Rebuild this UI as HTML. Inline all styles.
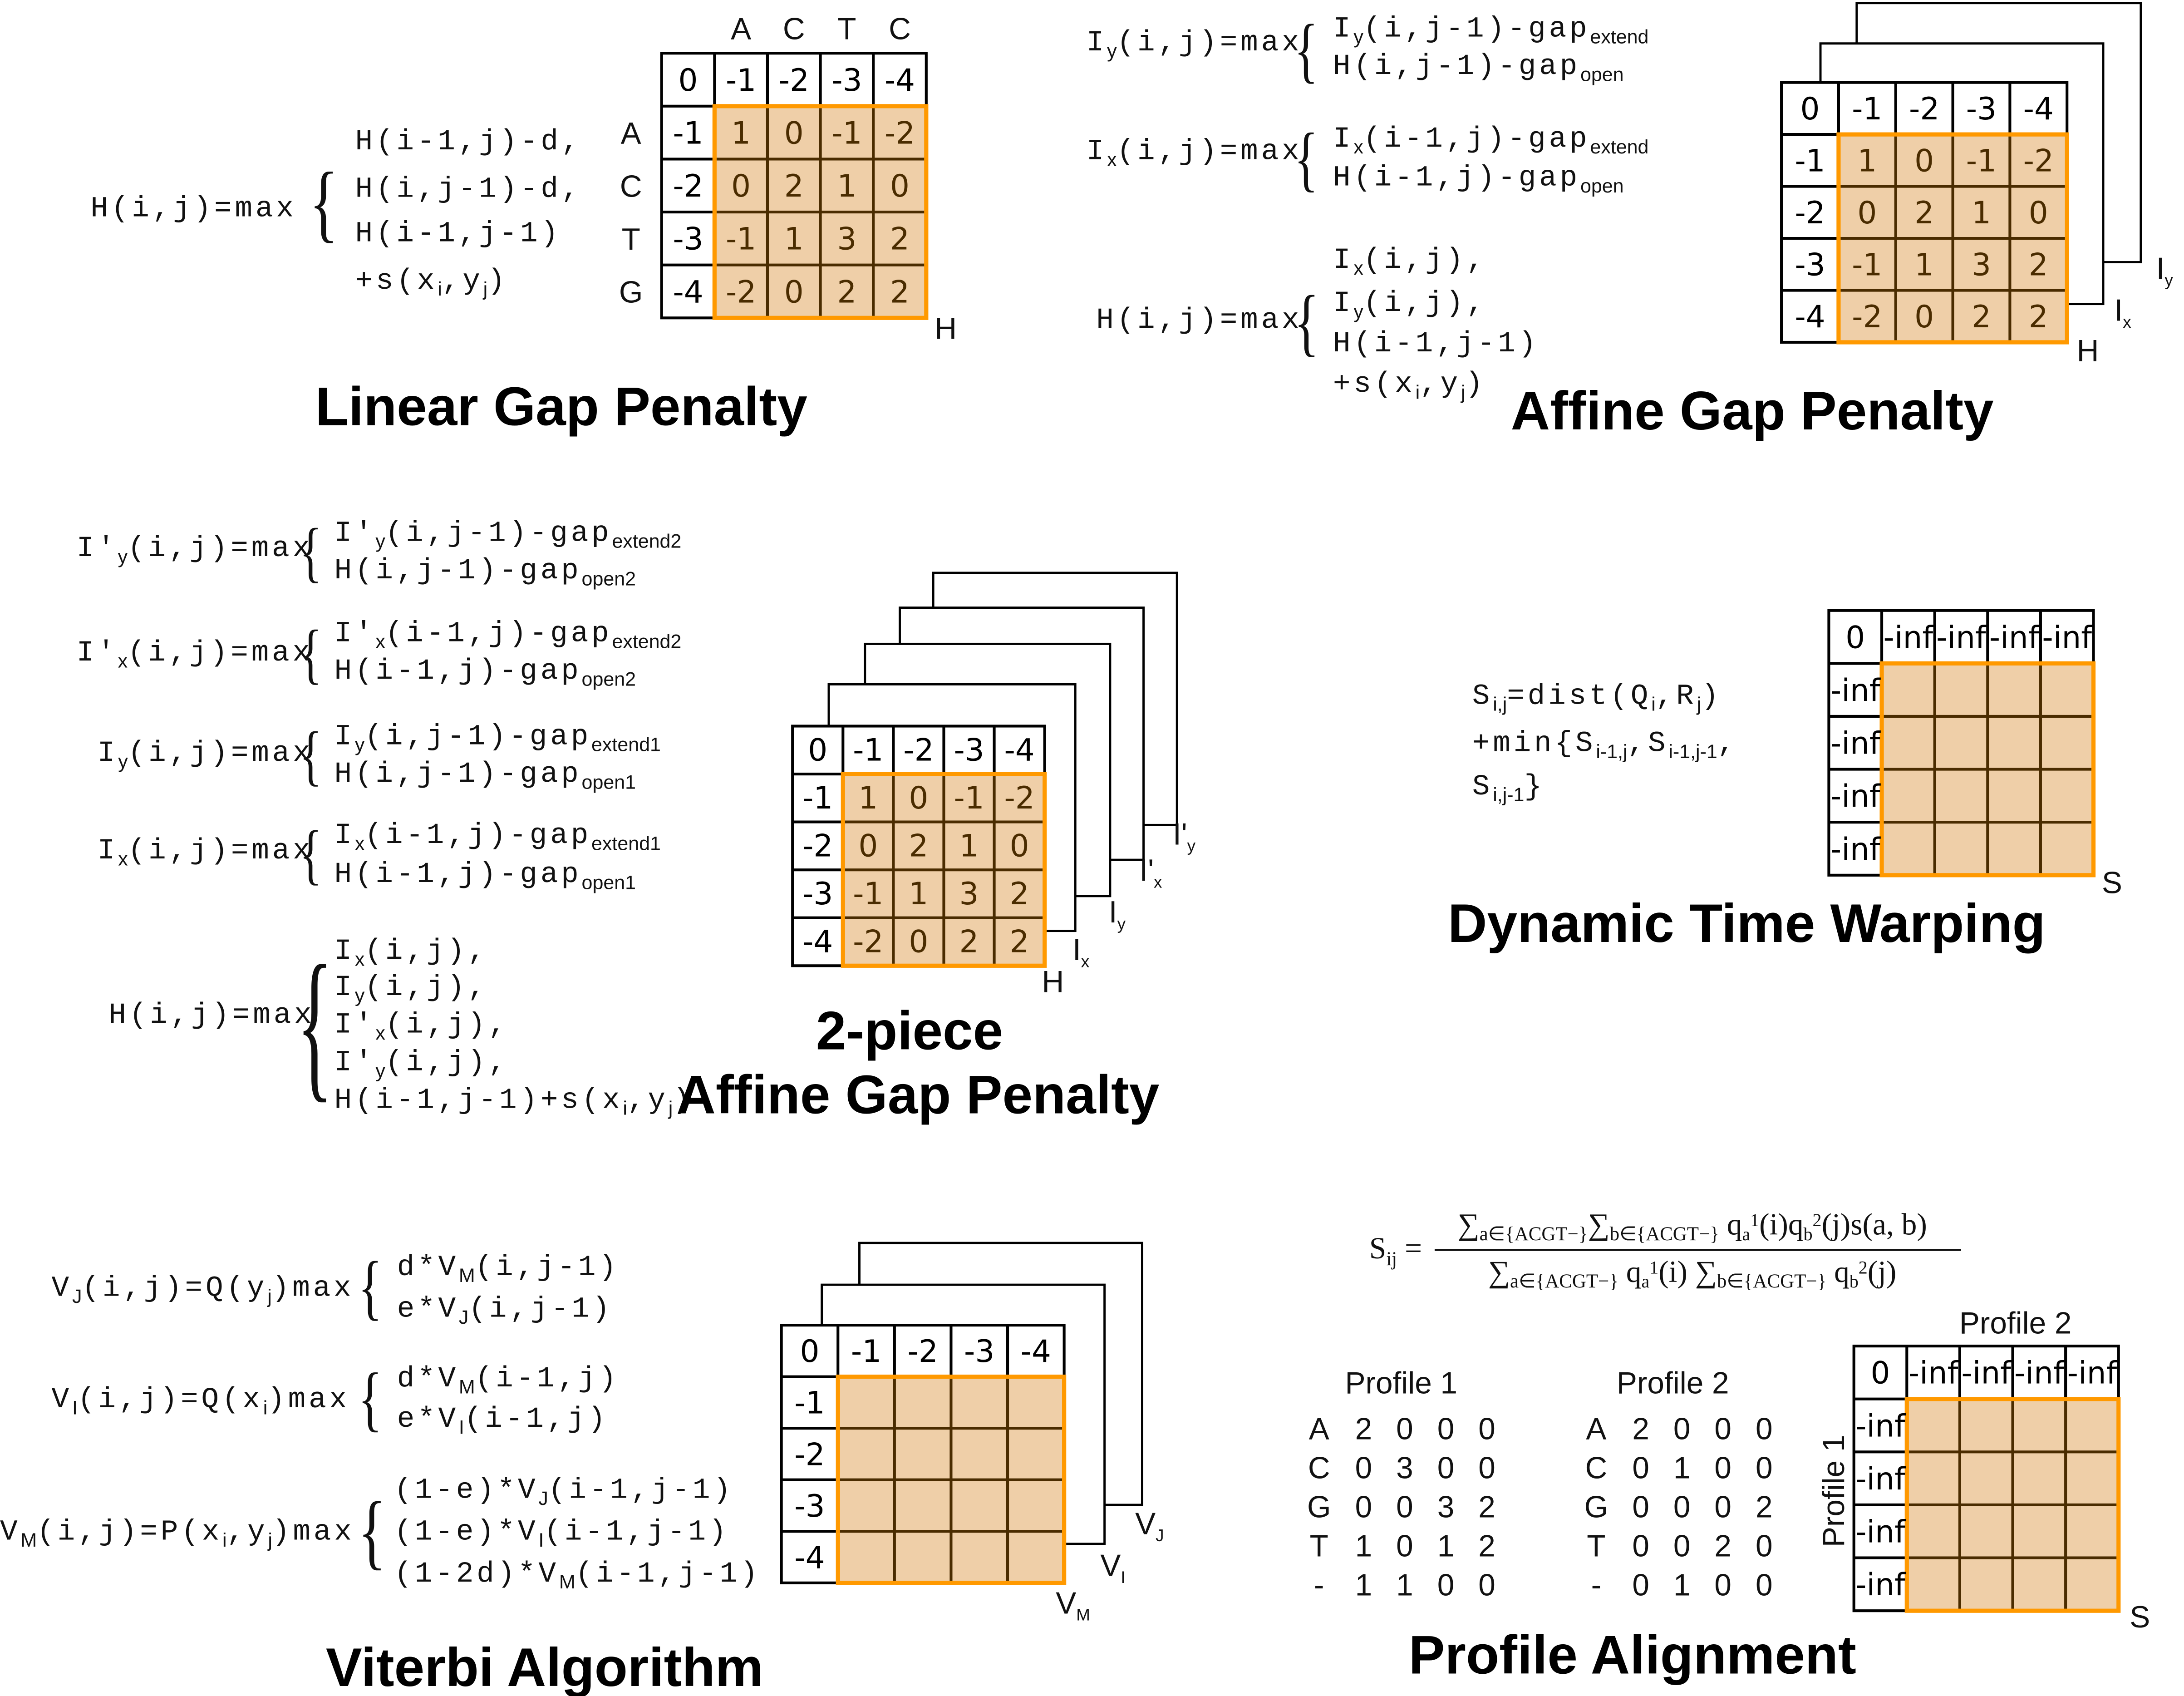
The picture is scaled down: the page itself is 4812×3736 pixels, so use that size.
<!DOCTYPE html>
<html><head><meta charset="utf-8">
<style>
html,body{margin:0;padding:0;background:#fff;}
svg{display:block;}
.f{font-family:"Liberation Mono","DejaVu Sans Mono",monospace;font-size:21px;letter-spacing:2.2px;fill:#111;}
.s{font-size:14px;letter-spacing:0;font-family:"Liberation Sans",sans-serif;}
.t{font-family:"Liberation Sans",sans-serif;font-weight:bold;font-size:39px;fill:#000;}
.g{font-family:"DejaVu Sans","Liberation Sans",sans-serif;font-size:22px;}
.l{font-family:"Liberation Sans",sans-serif;font-size:22px;fill:#111;}
.br{font-family:"Liberation Serif",serif;fill:#111;}
.m{font-family:"Liberation Serif",serif;font-size:22px;fill:#111;}
</style></head>
<body>
<svg id="fig" width="4812" height="3736" viewBox="0 0 1568 1217" xmlns="http://www.w3.org/2000/svg">
<rect width="1568" height="1217" fill="#fff"/>

<!-- Linear gap -->
<g>
<text class="f" x="65" y="155">H(i,j)=max</text>
<text class="br" transform="translate(222,0) scale(0.7,1)" x="0" y="166" font-size="62">{</text>
<text class="f" x="255" y="107">H(i-1,j)-d,</text>
<text class="f" x="255" y="141">H(i,j-1)-d,</text>
<text class="f" x="255" y="173">H(i-1,j-1)</text>
<text class="f" x="255" y="207">+s(x<tspan class="s" dy="5">i</tspan><tspan dy="-5">,y</tspan><tspan class="s" dy="5">j</tspan><tspan dy="-5">)</tspan></text>
</g>
<text class="t" x="403" y="305" text-anchor="middle">Linear Gap Penalty</text>

<!-- Affine -->
<g>
<text class="f" x="780" y="36">I<tspan class="s" dy="5">y</tspan><tspan dy="-5">(i,j)=max</tspan></text>
<text class="br" transform="translate(929,0) scale(0.7,1)" x="0" y="53" font-size="52">{</text>
<text class="f" x="957" y="26">I<tspan class="s" dy="5">y</tspan><tspan dy="-5">(i,j-1)-gap</tspan><tspan class="s" dy="5">extend</tspan></text>
<text class="f" x="957" y="53">H(i,j-1)-gap<tspan class="s" dy="5">open</tspan></text>
<text class="f" x="780" y="114">I<tspan class="s" dy="5">x</tspan><tspan dy="-5">(i,j)=max</tspan></text>
<text class="br" transform="translate(929,0) scale(0.7,1)" x="0" y="131" font-size="52">{</text>
<text class="f" x="957" y="105">I<tspan class="s" dy="5">x</tspan><tspan dy="-5">(i-1,j)-gap</tspan><tspan class="s" dy="5">extend</tspan></text>
<text class="f" x="957" y="133">H(i-1,j)-gap<tspan class="s" dy="5">open</tspan></text>
<text class="f" x="787" y="235">H(i,j)=max</text>
<text class="br" transform="translate(929,0) scale(0.7,1)" x="0" y="249" font-size="54">{</text>
<text class="f" x="957" y="192">I<tspan class="s" dy="5">x</tspan><tspan dy="-5">(i,j),</tspan></text>
<text class="f" x="957" y="223">I<tspan class="s" dy="5">y</tspan><tspan dy="-5">(i,j),</tspan></text>
<text class="f" x="957" y="252">H(i-1,j-1)</text>
<text class="f" x="957" y="281">+s(x<tspan class="s" dy="5">i</tspan><tspan dy="-5">,y</tspan><tspan class="s" dy="5">j</tspan><tspan dy="-5">)</tspan></text>
</g>
<text class="t" x="1258" y="308" text-anchor="middle">Affine Gap Penalty</text>

<!-- 2-piece -->
<g>
<text class="f" x="55" y="399">I'<tspan class="s" dy="5">y</tspan><tspan dy="-5">(i,j)=max</tspan></text>
<text class="br" transform="translate(215,0) scale(0.7,1)" x="0" y="412" font-size="48">{</text>
<text class="f" x="240" y="388">I'<tspan class="s" dy="5">y</tspan><tspan dy="-5">(i,j-1)-gap</tspan><tspan class="s" dy="5">extend2</tspan></text>
<text class="f" x="240" y="415">H(i,j-1)-gap<tspan class="s" dy="5">open2</tspan></text>
<text class="f" x="55" y="474">I'<tspan class="s" dy="5">x</tspan><tspan dy="-5">(i,j)=max</tspan></text>
<text class="br" transform="translate(215,0) scale(0.7,1)" x="0" y="485" font-size="48">{</text>
<text class="f" x="240" y="460">I'<tspan class="s" dy="5">x</tspan><tspan dy="-5">(i-1,j)-gap</tspan><tspan class="s" dy="5">extend2</tspan></text>
<text class="f" x="240" y="487">H(i-1,j)-gap<tspan class="s" dy="5">open2</tspan></text>
<text class="f" x="70" y="546">I<tspan class="s" dy="5">y</tspan><tspan dy="-5">(i,j)=max</tspan></text>
<text class="br" transform="translate(215,0) scale(0.7,1)" x="0" y="558" font-size="48">{</text>
<text class="f" x="240" y="534">I<tspan class="s" dy="5">y</tspan><tspan dy="-5">(i,j-1)-gap</tspan><tspan class="s" dy="5">extend1</tspan></text>
<text class="f" x="240" y="561">H(i,j-1)-gap<tspan class="s" dy="5">open1</tspan></text>
<text class="f" x="70" y="616">I<tspan class="s" dy="5">x</tspan><tspan dy="-5">(i,j)=max</tspan></text>
<text class="br" transform="translate(215,0) scale(0.7,1)" x="0" y="629" font-size="48">{</text>
<text class="f" x="240" y="605">I<tspan class="s" dy="5">x</tspan><tspan dy="-5">(i-1,j)-gap</tspan><tspan class="s" dy="5">extend1</tspan></text>
<text class="f" x="240" y="633">H(i-1,j)-gap<tspan class="s" dy="5">open1</tspan></text>
<text class="f" x="78" y="734">H(i,j)=max</text>
<text class="br" transform="translate(213,0) scale(0.45,1)" x="0" y="775" font-size="120">{</text>
<text class="f" x="240" y="688">I<tspan class="s" dy="5">x</tspan><tspan dy="-5">(i,j),</tspan></text>
<text class="f" x="240" y="714">I<tspan class="s" dy="5">y</tspan><tspan dy="-5">(i,j),</tspan></text>
<text class="f" x="240" y="741">I'<tspan class="s" dy="5">x</tspan><tspan dy="-5">(i,j),</tspan></text>
<text class="f" x="240" y="768">I'<tspan class="s" dy="5">y</tspan><tspan dy="-5">(i,j),</tspan></text>
<text class="f" x="240" y="795">H(i-1,j-1)+s(x<tspan class="s" dy="5">i</tspan><tspan dy="-5">,y</tspan><tspan class="s" dy="5">j</tspan><tspan dy="-5">)</tspan></text>
</g>
<text class="t" x="653" y="753" text-anchor="middle">2-piece</text>
<text class="t" x="659" y="799" text-anchor="middle">Affine Gap Penalty</text>

<!-- DTW -->
<g>
<text class="f" x="1057" y="505">S<tspan class="s" dy="5">i,j</tspan><tspan dy="-5">=dist(Q</tspan><tspan class="s" dy="5">i</tspan><tspan dy="-5">,R</tspan><tspan class="s" dy="5">j</tspan><tspan dy="-5">)</tspan></text>
<text class="f" x="1057" y="539">+min{S<tspan class="s" dy="5">i-1,j</tspan><tspan dy="-5">,S</tspan><tspan class="s" dy="5">i-1,j-1</tspan><tspan dy="-5">,</tspan></text>
<text class="f" x="1057" y="570">S<tspan class="s" dy="5">i,j-1</tspan><tspan dy="-5">}</tspan></text>
</g>
<text class="t" x="1254" y="676" text-anchor="middle">Dynamic Time Warping</text>

<!-- Viterbi -->
<g>
<text class="f" x="37" y="930">V<tspan class="s" dy="5">J</tspan><tspan dy="-5">(i,j)=Q(y</tspan><tspan class="s" dy="5">j</tspan><tspan dy="-5">)max</tspan></text>
<text class="br" transform="translate(257,0) scale(0.7,1)" x="0" y="941" font-size="52">{</text>
<text class="f" x="285" y="915">d*V<tspan class="s" dy="5">M</tspan><tspan dy="-5">(i,j-1)</tspan></text>
<text class="f" x="285" y="945">e*V<tspan class="s" dy="5">J</tspan><tspan dy="-5">(i,j-1)</tspan></text>
<text class="f" x="37" y="1010">V<tspan class="s" dy="5">I</tspan><tspan dy="-5">(i,j)=Q(x</tspan><tspan class="s" dy="5">i</tspan><tspan dy="-5">)max</tspan></text>
<text class="br" transform="translate(257,0) scale(0.7,1)" x="0" y="1021" font-size="52">{</text>
<text class="f" x="285" y="995">d*V<tspan class="s" dy="5">M</tspan><tspan dy="-5">(i-1,j)</tspan></text>
<text class="f" x="285" y="1024">e*V<tspan class="s" dy="5">I</tspan><tspan dy="-5">(i-1,j)</tspan></text>
<text class="f" x="0" y="1105">V<tspan class="s" dy="5">M</tspan><tspan dy="-5">(i,j)=P(x</tspan><tspan class="s" dy="5">i</tspan><tspan dy="-5">,y</tspan><tspan class="s" dy="5">j</tspan><tspan dy="-5">)max</tspan></text>
<text class="br" transform="translate(257,0) scale(0.7,1)" x="0" y="1119" font-size="60">{</text>
<text class="f" x="283" y="1075">(1-e)*V<tspan class="s" dy="5">J</tspan><tspan dy="-5">(i-1,j-1)</tspan></text>
<text class="f" x="283" y="1105">(1-e)*V<tspan class="s" dy="5">I</tspan><tspan dy="-5">(i-1,j-1)</tspan></text>
<text class="f" x="283" y="1135">(1-2d)*V<tspan class="s" dy="5">M</tspan><tspan dy="-5">(i-1,j-1)</tspan></text>
</g>
<text class="t" x="391" y="1210" text-anchor="middle">Viterbi Algorithm</text>

<!-- Profile -->
<g>
<text class="m" x="983" y="903">S<tspan font-size="14" dy="5">ij</tspan><tspan dy="-5"> =</tspan></text>
<text class="m" x="1215" y="886" text-anchor="middle" font-size="21">∑<tspan font-size="14" dy="4">a∈{ACGT−}</tspan><tspan dy="-4">∑</tspan><tspan font-size="14" dy="4">b∈{ACGT−}</tspan><tspan dy="-4"> q</tspan><tspan font-size="13" dy="4">a</tspan><tspan font-size="13" dy="-10">1</tspan><tspan dy="6">(i)q</tspan><tspan font-size="13" dy="4">b</tspan><tspan font-size="13" dy="-10">2</tspan><tspan dy="6">(j)s(a, b)</tspan></text>
<line x1="1030" y1="897" x2="1408" y2="897" stroke="#111" stroke-width="1.5"/>
<text class="m" x="1215" y="920" text-anchor="middle" font-size="21">∑<tspan font-size="14" dy="4">a∈{ACGT−}</tspan><tspan dy="-4"> q</tspan><tspan font-size="13" dy="4">a</tspan><tspan font-size="13" dy="-10">1</tspan><tspan dy="6">(i) ∑</tspan><tspan font-size="14" dy="4">b∈{ACGT−}</tspan><tspan dy="-4"> q</tspan><tspan font-size="13" dy="4">b</tspan><tspan font-size="13" dy="-10">2</tspan><tspan dy="6">(j)</tspan></text>
</g>
<text class="l" x="1006" y="1000" text-anchor="middle">Profile 1</text>
<text class="l" x="1201" y="1000" text-anchor="middle">Profile 2</text>
<text class="l" x="1447" y="957" text-anchor="middle">Profile 2</text>
<text class="l" x="1324" y="1070" text-anchor="middle" transform="rotate(-90 1324 1070)">Profile 1</text>
<g id="profiles"></g>
<text class="t" x="1172" y="1201" text-anchor="middle">Profile Alignment</text>

<g id="grids"></g>
</svg>
<script>
const linearHeader = ["0","-1","-2","-3","-4"];
const linearRowHeader = ["-1","-2","-3","-4"];
const scoreValues = [["1","0","-1","-2"],["0","2","1","0"],["-1","1","3","2"],["-2","0","2","2"]];
const seqTop = ["A","C","T","C"];
const seqLeft = ["A","C","T","G"];
const infHeader = ["0","-inf","-inf","-inf","-inf"];
const infRow = ["-inf","-inf","-inf","-inf"];
const profileRows = ["A","C","G","T","-"];
const profile1Values = [[2,0,0,0],[0,3,0,0],[0,0,3,2],[1,0,1,2],[1,1,0,0]];
const profile2Values = [[2,0,0,0],[0,1,0,0],[0,0,0,2],[0,0,2,0],[0,1,0,0]];

const NS="http://www.w3.org/2000/svg";
const G=document.getElementById('grids');
function mk(tag,attrs,parent){const e=document.createElementNS(NS,tag);for(const k in attrs)e.setAttribute(k,attrs[k]);(parent||G).appendChild(e);return e;}
function txt(x,y,s,attrs,parent){const e=mk('text',Object.assign({x:x,y:y,'text-anchor':'middle'},attrs||{}),parent);e.textContent=s;return e;}

function layers(list,name){
  list.forEach((r,i)=>{
    const e=mk('rect',{x:r[0],y:r[1],width:r[2],height:r[3],fill:'#fff',stroke:'#000','stroke-width':1.6});
    
    
  });
}
function grid(name,x,y,cw,ch,header,rowHdr,vals,fs){
  const g=mk('g',{});
  
  
  mk('rect',{x:x,y:y,width:cw*5,height:ch*5,fill:'#fff',stroke:'#000','stroke-width':2},g);
  for(let i=1;i<5;i++){
    mk('line',{x1:x+cw*i,y1:y,x2:x+cw*i,y2:y+ch,stroke:'#000','stroke-width':2},g);
    mk('line',{x1:x,y1:y+ch*i,x2:x+cw,y2:y+ch*i,stroke:'#000','stroke-width':2},g);
  }
  mk('rect',{x:x+cw,y:y+ch,width:cw*4,height:ch*4,fill:'#EFCFA8'},g);
  for(let i=1;i<4;i++){
    mk('line',{x1:x+cw*(i+1),y1:y+ch,x2:x+cw*(i+1),y2:y+ch*5,stroke:'#4a2c00','stroke-width':2},g);
    mk('line',{x1:x+cw,y1:y+ch*(i+1),x2:x+cw*5,y2:y+ch*(i+1),stroke:'#4a2c00','stroke-width':2},g);
  }
  mk('rect',{x:x+cw,y:y+ch,width:cw*4,height:ch*4,fill:'none',stroke:'#FF9900','stroke-width':3},g);
  header.forEach((h,i)=>{const t=txt(x+cw*(i+0.5),y+ch*0.5+fs*0.36,h,{class:'g','font-size':fs,fill:'#000'},g);
    });
  rowHdr.forEach((h,i)=>{const t=txt(x+cw*0.5,y+ch*(i+1.5)+fs*0.36,h,{class:'g','font-size':fs,fill:'#000'},g);
    });
  if(vals) vals.forEach((row,r)=>row.forEach((v,c)=>{
    const t=txt(x+cw*(c+1.5),y+ch*(r+1.5)+fs*0.36,v,{class:'g','font-size':fs,fill:'#4a2c00'},g);
    
  }));
  return g;
}
function label(x,y,main,sub){
  const t=mk('text',{x:x,y:y,class:'l','font-size':17});
  
  
  t.textContent=main;
  if(sub){const s=mk('tspan',{'font-size':12,dy:5},t);s.textContent=sub;}
}

grid('linear-grid',475,38,38,38,linearHeader,linearRowHeader,scoreValues,22);
seqTop.forEach((s,i)=>txt(475+38*(i+1.5),28,s,{class:'l','font-size':24}));
seqLeft.forEach((s,i)=>txt(453,38+38*(i+1.5)+8,s,{class:'l','font-size':24}));
label(671,243,'H');

layers([[1333,2,204,186],[1307,31,203,187]],'affine');
grid('affine-grid',1279,59,41,37.3,linearHeader,linearRowHeader,scoreValues,22);
label(1548,200,'I','y');label(1518,230,'I','x');label(1491,259,'H');

layers([[670,411,175,181],[646,436,175,181],[621,462,176,181],[595,491,177,177]],'two-piece');
grid('two-piece-grid',569,521,36.2,34.4,linearHeader,linearRowHeader,scoreValues,21);
label(842,606,"I'",'y');label(818,632,"I'",'x');label(796,662,'I','y');label(770,689,'I','x');label(748,712,'H');

grid('dtw-grid',1313,438,38,38,infHeader,infRow,null,22);
label(1509,641,'S');

layers([[617,892,203,188],[590,922,203,186]],'viterbi');
grid('viterbi-grid',561,951,40.6,37,linearHeader,linearRowHeader,null,22);
label(815,1101,'V','J');label(790,1131,'V','I');label(758,1158,'V','M');

grid('profile-grid',1331,966,38,38,infHeader,infRow,null,22);
label(1529,1168,'S');

const P=document.getElementById('profiles');
function ptable(name,lx,vx,vals){
  const g=mk('g',{},P);
  
  
  profileRows.forEach((r,i)=>{
    const y=1033+28*i;
    txt(lx,y,r,{class:'l','font-size':16},g);
    vals[i].forEach((v,j)=>{const t=txt(vx+29.5*j,y,String(v),{class:'l','font-size':15},g);
      });
  });
}
ptable('profile1-table',947,979,profile1Values);
ptable('profile2-table',1146,1178,profile2Values);
</script>
</body></html>
